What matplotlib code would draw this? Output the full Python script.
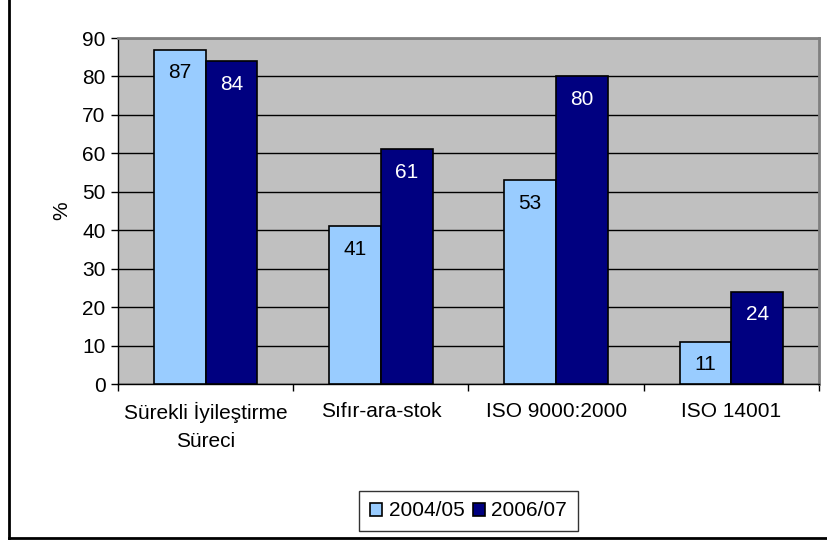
import matplotlib
matplotlib.use("Agg")
import matplotlib.pyplot as plt
import numpy as np
from matplotlib.lines import Line2D

plt.rcParams['font.family'] = ['Liberation Sans', 'DejaVu Sans']

kategoriler = ["Sürekli İyileştirme\nSüreci", "Sıfır-ara-stok", "ISO 9000:2000", "ISO 14001"]
yil_2004 = [87, 41, 53, 11]
yil_2006 = [84, 61, 80, 24]
seriler = ["2004/05", "2006/07"]

renk_acik = "#99CCFF"
renk_koyu = "#000080"
fs = 15

fig = plt.figure(figsize=(8.28, 5.44), dpi=100)
ax = fig.add_axes([118/828, 1 - 384/544, (819-118)/828, (384-38)/544])
ax.set_facecolor("#C0C0C0")

x = np.arange(len(kategoriler))
w = 0.296
b1 = ax.bar(x - w/2, yil_2004, w, color=renk_acik, edgecolor="black", linewidth=1.2, label=seriler[0], zorder=3)
b2 = ax.bar(x + w/2, yil_2006, w, color=renk_koyu, edgecolor="black", linewidth=1.2, label=seriler[1], zorder=3)

for bar, v in zip(b1, yil_2004):
    ax.text(bar.get_x() + bar.get_width()/2, v - 6, str(v), ha="center", va="center", fontsize=fs, color="black", zorder=4)
for bar, v in zip(b2, yil_2006):
    ax.text(bar.get_x() + bar.get_width()/2, v - 6, str(v), ha="center", va="center", fontsize=fs, color="white", zorder=4)

ax.set_xlim(-0.5, len(kategoriler) - 0.5)
ax.set_ylim(0, 90)
ax.set_yticks(range(0, 91, 10))
ax.yaxis.grid(True, color="black", linewidth=1)
ax.set_axisbelow(True)
ax.tick_params(axis="y", labelsize=fs, length=5, direction="out", width=1, pad=4)

ax.set_xticks(np.arange(-0.5, len(kategoriler), 1), minor=False)
ax.set_xticklabels([])
ax.set_xticks(x, minor=True)
ax.set_xticklabels(kategoriler, minor=True, fontsize=fs, linespacing=1.6)
ax.tick_params(axis="x", which="major", length=5, direction="out", width=1)
ax.tick_params(axis="x", which="minor", length=0, pad=13)

ax.set_ylabel("%", fontsize=fs, labelpad=8)

for s in ["top", "right"]:
    ax.spines[s].set_color("#808080")
    ax.spines[s].set_linewidth(2)
for s in ["left", "bottom"]:
    ax.spines[s].set_color("black")
    ax.spines[s].set_linewidth(1)

leg = ax.legend(loc="center", bbox_to_anchor=(0.5, 1 - (511-38)/(384-38)), bbox_transform=ax.transAxes,
                ncol=2, fontsize=fs, frameon=True, fancybox=False, edgecolor="black",
                handlelength=0.6, handleheight=0.6, handletextpad=0.3, columnspacing=0.4, borderpad=0.5,
                borderaxespad=0)
leg.get_frame().set_linewidth(1)

# dış çerçeve (sol ve alt kenar)
fig.add_artist(Line2D([9/828, 9/828], [1 - 538/544, 1], transform=fig.transFigure, color="black", linewidth=2))
fig.add_artist(Line2D([9/828, 1], [1 - 538/544, 1 - 538/544], transform=fig.transFigure, color="black", linewidth=2))

fig.savefig("out.png", dpi=100)
